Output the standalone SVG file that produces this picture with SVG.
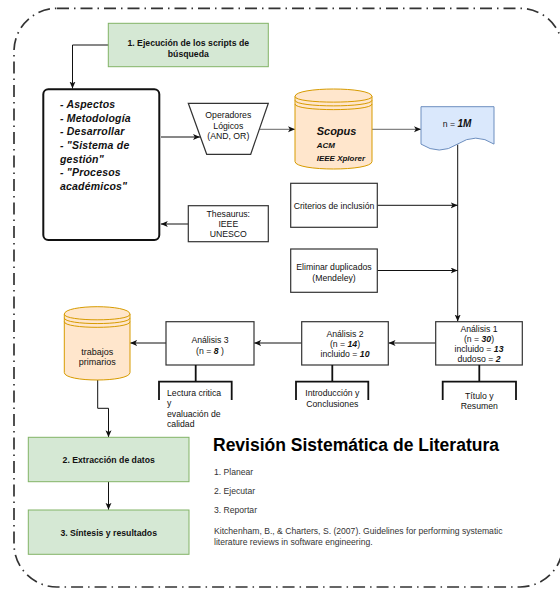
<svg xmlns="http://www.w3.org/2000/svg" width="560" height="589" viewBox="0 0 560 589">
<style>
text{font-family:"Liberation Sans",Arial,Helvetica,sans-serif;fill:#111}
.t{font-size:8.7px;text-anchor:middle}
.b{font-weight:bold}
.bi{font-weight:bold;font-style:italic}
.box{fill:#fff;stroke:#333;stroke-width:1.2}
.green{fill:#d5e8d4;stroke:#82b366;stroke-width:1}
.orange{fill:#ffe6cc;stroke:#d79b00;stroke-width:1}
.blue{fill:#dae8fc;stroke:#6c8ebf;stroke-width:1}
.c{fill:none;stroke:#111;stroke-width:1;marker-end:url(#arr)}
.cg{fill:none;stroke:#666;stroke-width:1;marker-end:url(#arr)}
.br{fill:none;stroke:#111;stroke-width:1.8}
.lb{font-size:10.5px;font-weight:bold;font-style:italic;letter-spacing:0.2px}
.ref{font-size:8.6px;fill:#333}
</style>
<defs>
<marker id="arr" markerUnits="userSpaceOnUse" markerWidth="8" markerHeight="7" refX="7" refY="3" orient="auto">
<path d="M0,0 L7,3 L0,6 L1.8,3 Z" fill="#111"/>
</marker>
</defs>

<rect id="frame" x="14" y="8.3" width="549" height="578.7" rx="43" ry="43" fill="none" stroke="#333" stroke-width="1.7" stroke-dasharray="12 5 1.5 5"/>

<g id="connectors">
<path class="c" d="M109,45 H72.5 V88.5"/>
<path class="c" d="M161,137 H200"/>
<path class="cg" d="M259.3,129.3 H295"/>
<path class="cg" d="M372,129.3 H421"/>
<path class="c" d="M457.7,144.5 V321.5"/>
<path class="c" d="M188.3,224 H160.8"/>
<path class="c" d="M377.3,205.3 H457.7"/>
<path class="c" d="M377.3,270.5 H457.7"/>
<path class="c" d="M435.7,343 H388.5"/>
<path class="c" d="M301.7,343 H254.2"/>
<path class="c" d="M166,343 H130.2"/>
<path class="c" d="M97.7,380 V408.3 H108.5 V437.2"/>
<path class="c" d="M108.5,481.7 V509.8"/>
</g>

<g id="step1">
<rect class="green" x="108.3" y="23.3" width="160" height="43.4"/>
<text class="t b" x="188.3" y="45.8">1. Ejecución de los scripts de</text>
<text class="t b" x="188.3" y="56.6">búsqueda</text>
</g>

<g id="keywords">
<rect x="43.3" y="89.3" width="116" height="150.7" rx="5" ry="5" fill="#fff" stroke="#111" stroke-width="2"/>
<text class="lb" x="60" y="108">- Aspectos</text>
<text class="lb" x="60" y="121.7">- Metodología</text>
<text class="lb" x="60" y="135.3">- Desarrollar</text>
<text class="lb" x="60" y="149">- "Sistema de</text>
<text class="lb" x="60" y="162.6">gestión"</text>
<text class="lb" x="60" y="176.3">- "Procesos</text>
<text class="lb" x="60" y="190">académicos"</text>
</g>

<g id="operadores">
<polygon class="box" points="188.3,103.3 268.3,103.3 250.7,154.3 206.7,154.3"/>
<text class="t" x="228.3" y="118">Operadores</text>
<text class="t" x="228.3" y="128.7">Lógicos</text>
<text class="t" x="228.3" y="139.2">(AND, OR)</text>
</g>

<g id="databases">
<path class="orange" d="M295,96.5 C295,86.5 372,86.5 372,96.5 L372,161.5 C372,171.5 295,171.5 295,161.5 Z"/>
<path fill="none" stroke="#d79b00" stroke-width="1" d="M295,96.5 C295,104 372,104 372,96.5 M295,100.25 C295,107.75 372,107.75 372,100.25 M295,104 C295,111.5 372,111.5 372,104"/>
<text class="bi" x="316.7" y="134.7" style="font-size:11px">Scopus</text>
<text class="bi" x="316.7" y="148" style="font-size:8px">ACM</text>
<text class="bi" x="316.7" y="160.5" style="font-size:8px">IEEE Xplorer</text>
</g>

<g id="n1m">
<path class="blue" d="M421,106.7 H494 V144.1 Q475.75,132.2 457.5,144.1 Q439.25,156 421,144.1 Z"/>
<text class="t" x="457" y="126.5"><tspan>n = </tspan><tspan class="bi" style="font-size:10px">1M</tspan></text>
</g>

<g id="thesaurus">
<rect class="box" x="188.3" y="205.7" width="80" height="36"/>
<text class="t" x="228.3" y="217.2">Thesaurus:</text>
<text class="t" x="228.3" y="227.2">IEEE</text>
<text class="t" x="228.3" y="237.2">UNESCO</text>
</g>

<g id="criterios">
<rect class="box" x="290.7" y="183.3" width="86.6" height="44"/>
<text class="t" x="334" y="208.6">Criterios de inclusión</text>
</g>

<g id="duplicados">
<rect class="box" x="290.7" y="249" width="86.6" height="43.3"/>
<text class="t" x="334" y="269.7">Eliminar duplicados</text>
<text class="t" x="334" y="280.5">(Mendeley)</text>
</g>

<g id="analisis1">
<rect class="box" x="435.7" y="321.7" width="86.6" height="43.3"/>
<text class="t" x="479" y="331.5">Análisis 1</text>
<text class="t" x="479" y="342.3">(n = <tspan class="bi">30</tspan>)</text>
<text class="t" x="479" y="352.3">incluido = <tspan class="bi">13</tspan></text>
<text class="t" x="479" y="362.3">dudoso = <tspan class="bi">2</tspan></text>
</g>

<g id="analisis2">
<rect class="box" x="301.7" y="321.7" width="86.6" height="43.3"/>
<text class="t" x="345" y="337">Análisis 2</text>
<text class="t" x="345" y="347">(n = <tspan class="bi">14</tspan>)</text>
<text class="t" x="345" y="356.8">incluido = <tspan class="bi">10</tspan></text>
</g>

<g id="analisis3">
<rect class="box" x="166" y="321.7" width="88" height="43.3"/>
<text class="t" x="210" y="342.5">Análisis 3</text>
<text class="t" x="210" y="353.5">(n = <tspan class="bi">8</tspan> )</text>
</g>

<g id="nota1">
<path class="br" d="M479.3,365 V381.7 M442.7,400 V381.7 H516 V400"/>
<text class="t" x="479.3" y="398.5">Título y</text>
<text class="t" x="479.3" y="408.7">Resumen</text>
</g>

<g id="nota2">
<path class="br" d="M332.3,365 V381.7 M296,400 V381.7 H368.3 V400"/>
<text class="t" x="332.3" y="396">Introducción y</text>
<text class="t" x="332.3" y="406.8">Conclusiones</text>
</g>

<g id="nota3">
<path class="br" d="M195.7,365 V381.7 M159,400 V381.7 H231.7 V400"/>
<text style="font-size:8.7px" x="167" y="395.5">Lectura critica</text>
<text style="font-size:8.7px" x="167" y="406">y</text>
<text style="font-size:8.7px" x="167" y="416.5">evaluación de</text>
<text style="font-size:8.7px" x="167" y="427">calidad</text>
</g>

<g id="primarios">
<path class="orange" d="M64.3,314.2 C64.3,304.2 130,304.2 130,314.2 L130,372.5 C130,382.5 64.3,382.5 64.3,372.5 Z"/>
<path fill="none" stroke="#d79b00" stroke-width="1" d="M64.3,314.2 C64.3,321.7 130,321.7 130,314.2 M64.3,317.95 C64.3,325.45 130,325.45 130,317.95 M64.3,321.7 C64.3,329.2 130,329.2 130,321.7"/>
<text class="t" x="97.2" y="354.5" style="font-size:9px">trabajos</text>
<text class="t" x="97.2" y="364.7" style="font-size:9px">primarios</text>
</g>

<g id="step2">
<rect class="green" x="28.3" y="437.3" width="160.7" height="44.4"/>
<text class="t b" x="108.7" y="463">2. Extracción de datos</text>
</g>

<g id="step3">
<rect class="green" x="28.3" y="510" width="160.7" height="44.3"/>
<text class="t b" x="108.7" y="535.5">3. Síntesis y resultados</text>
</g>

<g id="legend">
<text x="213" y="451" style="font-size:17.5px;font-weight:bold;fill:#000">Revisión Sistemática de Literatura</text>
<text class="ref" x="214" y="475">1. Planear</text>
<text class="ref" x="214" y="494">2. Ejecutar</text>
<text class="ref" x="214" y="513">3. Reportar</text>
<text class="ref" x="214" y="533.5">Kitchenham, B., &amp; Charters, S. (2007). Guidelines for performing systematic</text>
<text class="ref" x="214" y="545">literature reviews in software engineering.</text>
</g>
</svg>
